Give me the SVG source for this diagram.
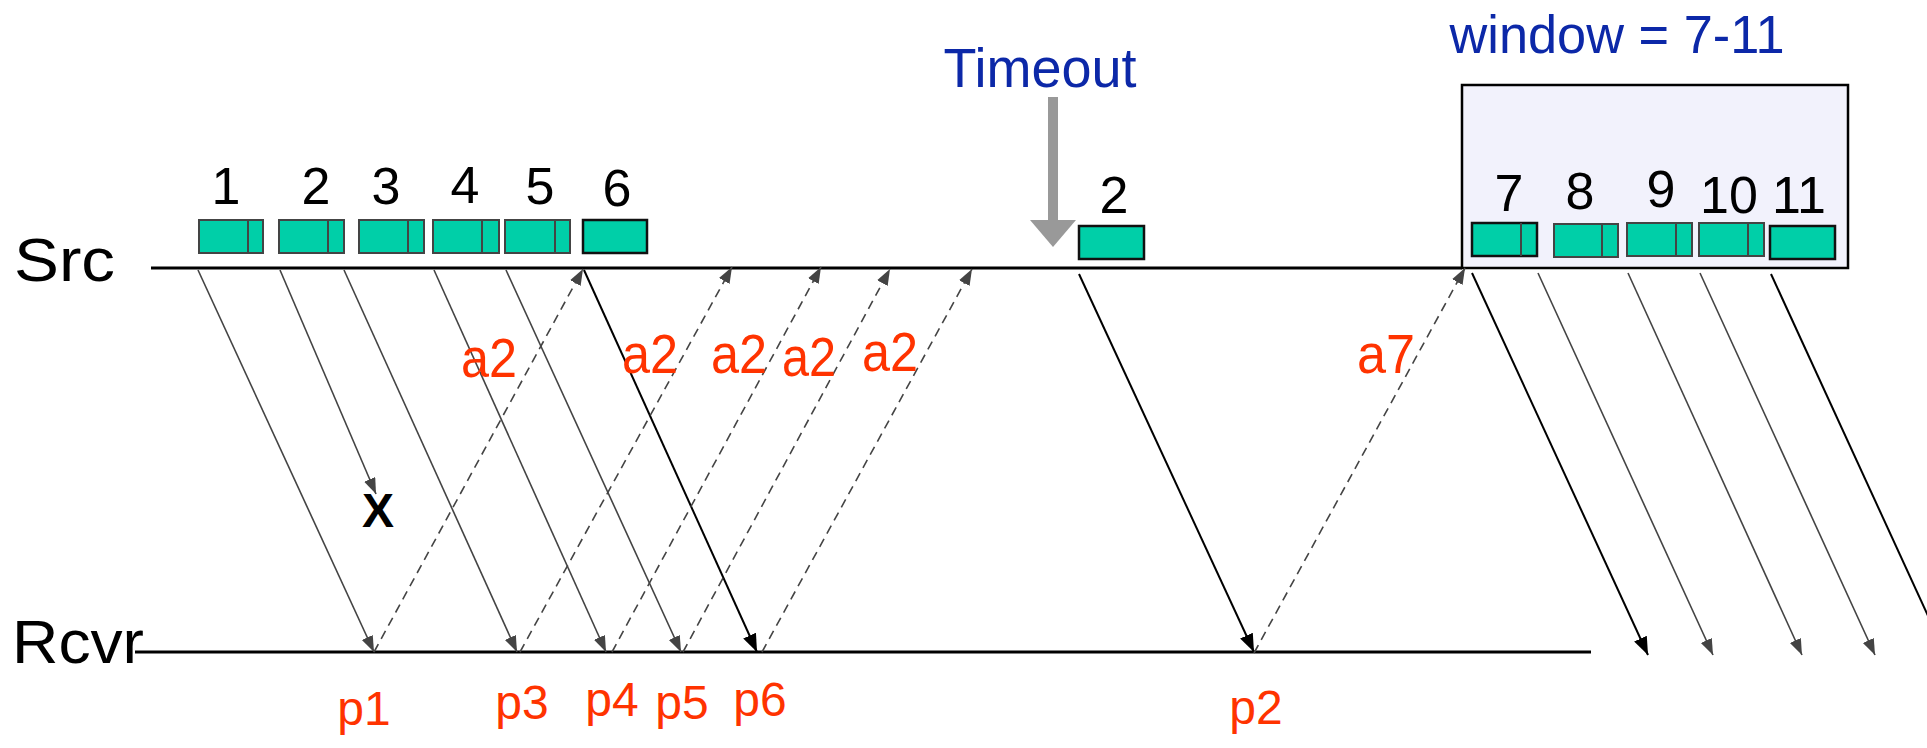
<svg xmlns="http://www.w3.org/2000/svg" width="1927" height="748" viewBox="0 0 1927 748">
<defs>
<marker id="ag" markerUnits="userSpaceOnUse" markerWidth="18" markerHeight="14" refX="16" refY="6" orient="auto"><path d="M0,0 L16,6 L0,12 Z" fill="#444"/></marker>
<marker id="ab" markerUnits="userSpaceOnUse" markerWidth="20" markerHeight="16" refX="18" refY="7" orient="auto"><path d="M0,0 L18,7 L0,14 Z" fill="#000"/></marker>
</defs>
<style>
.pkt{fill:#00cfa8;stroke:#444;stroke-width:2}
.pktb{fill:#00cfa8;stroke:#111;stroke-width:2.5}
.dv{stroke:#444;stroke-width:2}
text{font-family:"Liberation Sans",Arial,sans-serif}
.num{font-size:52px;fill:#000;text-anchor:middle}
.lbl{font-size:61px;fill:#000}
.red{font-size:48px;fill:#ff3300;text-anchor:middle}
.ack-l{font-size:55px}
.blue{fill:#0c28a8;text-anchor:middle}
.data{stroke:#444;stroke-width:1.6;fill:none;marker-end:url(#ag)}
.datab{stroke:#000;stroke-width:2;fill:none;marker-end:url(#ab)}
.ack{stroke:#444;stroke-width:1.6;fill:none;stroke-dasharray:9 6;marker-end:url(#ag)}
.tl{stroke:#000;stroke-width:3}
</style>
<rect id="window-box" x="1462" y="85" width="386" height="183" fill="#f2f2fc" stroke="#000" stroke-width="2.5"/>
<g id="src"><text class="lbl" x="14" y="281" textLength="101" lengthAdjust="spacingAndGlyphs">Src</text><line class="tl" x1="151" y1="268" x2="1462" y2="268"/></g>
<g id="rcvr"><text class="lbl" x="12" y="663" textLength="132" lengthAdjust="spacingAndGlyphs">Rcvr</text><line class="tl" x1="135" y1="652" x2="1591" y2="652"/></g>
<g id="timeout"><text class="blue" x="1040" y="87" font-size="55" textLength="193" lengthAdjust="spacingAndGlyphs">Timeout</text><line x1="1053" y1="97" x2="1053" y2="222" stroke="#999" stroke-width="10"/><polygon points="1030,220 1076,220 1053,247" fill="#999"/></g>
<g id="window-label"><text class="blue" x="1617" y="53" font-size="54" textLength="335" lengthAdjust="spacingAndGlyphs">window = 7-11</text></g>
<g id="pkt1"><rect class="pkt" x="199" y="220" width="64" height="33"/><line class="dv" x1="248" y1="220" x2="248" y2="253"/><text class="num" x="226" y="204">1</text></g>
<g id="pkt2"><rect class="pkt" x="279" y="220" width="65" height="33"/><line class="dv" x1="328" y1="220" x2="328" y2="253"/><text class="num" x="316" y="204">2</text></g>
<g id="pkt3"><rect class="pkt" x="359" y="220" width="65" height="33"/><line class="dv" x1="408" y1="220" x2="408" y2="253"/><text class="num" x="386" y="204">3</text></g>
<g id="pkt4"><rect class="pkt" x="433" y="220" width="66" height="33"/><line class="dv" x1="482" y1="220" x2="482" y2="253"/><text class="num" x="465" y="203">4</text></g>
<g id="pkt5"><rect class="pkt" x="505" y="220" width="65" height="33"/><line class="dv" x1="555" y1="220" x2="555" y2="253"/><text class="num" x="540" y="204">5</text></g>
<g id="pkt6"><rect class="pktb" x="583" y="220" width="64" height="33"/><text class="num" x="617" y="206">6</text></g>
<g id="pkt2r"><rect class="pktb" x="1079" y="226" width="65" height="33"/><text class="num" x="1114" y="213">2</text></g>
<g id="pkt7"><rect class="pktb" x="1472" y="223" width="65" height="33"/><line class="dv" x1="1521" y1="223" x2="1521" y2="256"/><text class="num" x="1509" y="211">7</text></g>
<g id="pkt8"><rect class="pkt" x="1554" y="224" width="64" height="33"/><line class="dv" x1="1602" y1="224" x2="1602" y2="257"/><text class="num" x="1580" y="209">8</text></g>
<g id="pkt9"><rect class="pkt" x="1627" y="223" width="65" height="33"/><line class="dv" x1="1676" y1="223" x2="1676" y2="256"/><text class="num" x="1661" y="207">9</text></g>
<g id="pkt10"><rect class="pkt" x="1699" y="223" width="65" height="33"/><line class="dv" x1="1748" y1="223" x2="1748" y2="256"/><text class="num" x="1729" y="213">10</text></g>
<g id="pkt11"><rect class="pktb" x="1770" y="226" width="65" height="33"/><text class="num" x="1799" y="213">11</text></g>
<g id="connectors">
<line class="data" x1="198" y1="270" x2="374" y2="652"/>
<line class="data" x1="280" y1="270" x2="376" y2="494"/>
<line class="data" x1="344" y1="270" x2="517" y2="652"/>
<line class="data" x1="434" y1="270" x2="606" y2="652"/>
<line class="data" x1="506" y1="270" x2="681" y2="652"/>
<line class="datab" x1="584" y1="270" x2="757" y2="652"/>
<line class="ack" x1="374" y1="652" x2="583" y2="269"/>
<line class="ack" x1="520" y1="652" x2="732" y2="267"/>
<line class="ack" x1="612" y1="652" x2="821" y2="267"/>
<line class="ack" x1="683" y1="652" x2="890" y2="269"/>
<line class="ack" x1="762" y1="652" x2="972" y2="269"/>
<line class="datab" x1="1079" y1="274" x2="1254" y2="652"/>
<line class="ack" x1="1254" y1="653" x2="1465" y2="268"/>
<line class="datab" x1="1472" y1="273" x2="1648" y2="655"/>
<line class="data" x1="1538" y1="273" x2="1713" y2="655"/>
<line class="data" x1="1628" y1="273" x2="1802" y2="655"/>
<line class="data" x1="1700" y1="273" x2="1875" y2="655"/>
<line class="datab" x1="1771" y1="274" x2="1946" y2="655"/>
</g>
<g id="loss"><text x="378" y="527" font-size="48" font-weight="bold" text-anchor="middle" fill="#000">X</text></g>
<g id="ack-labels">
<text class="red ack-l" x="489" y="377" textLength="56" lengthAdjust="spacingAndGlyphs">a2</text>
<text class="red ack-l" x="650" y="373" textLength="56" lengthAdjust="spacingAndGlyphs">a2</text>
<text class="red ack-l" x="739" y="373" textLength="56" lengthAdjust="spacingAndGlyphs">a2</text>
<text class="red ack-l" x="809" y="376" textLength="54" lengthAdjust="spacingAndGlyphs">a2</text>
<text class="red ack-l" x="890" y="371" textLength="56" lengthAdjust="spacingAndGlyphs">a2</text>
<text class="red ack-l" x="1386" y="373" textLength="58" lengthAdjust="spacingAndGlyphs">a7</text>
</g>
<g id="rcv-labels">
<text class="red" x="364" y="725">p1</text>
<text class="red" x="522" y="719">p3</text>
<text class="red" x="612" y="716">p4</text>
<text class="red" x="682" y="719">p5</text>
<text class="red" x="760" y="716">p6</text>
<text class="red" x="1256" y="724">p2</text>
</g>
</svg>
